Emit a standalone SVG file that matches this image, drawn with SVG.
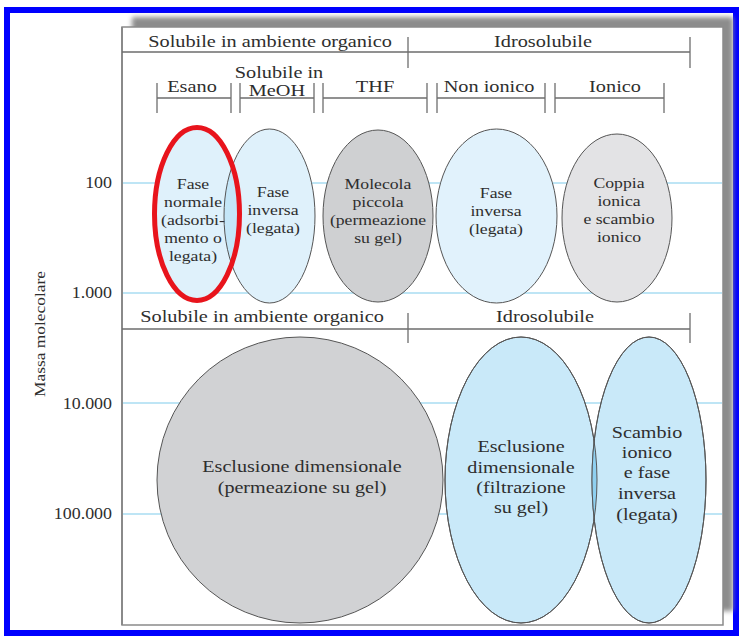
<svg xmlns="http://www.w3.org/2000/svg" width="739" height="636" viewBox="0 0 739 636">
<defs>
<style>
text{font-family:"Liberation Serif","Times New Roman",serif;fill:#2e2e2e;}
.h{font-size:17.5px;text-anchor:middle;}
.e{font-size:15px;text-anchor:middle;}
.b{font-size:16.5px;text-anchor:middle;}
.a{font-size:16px;text-anchor:end;}
.ax{font-size:15px;text-anchor:middle;}
.rule{stroke:#6e6e6e;stroke-width:1.3;fill:none;}
.grid{stroke:#a8dcf2;stroke-width:1.5;}
.ell{stroke:#555;stroke-width:1;}
</style>
<filter id="blur" x="-5%" y="-5%" width="110%" height="110%"><feGaussianBlur stdDeviation="2.5"/></filter>
<clipPath id="clipE1"><ellipse cx="197" cy="214" rx="42.5" ry="86.5"/></clipPath>
<clipPath id="clipB1"><ellipse cx="521" cy="480" rx="76" ry="143"/></clipPath>
</defs>
<rect x="0" y="0" width="739" height="636" fill="#fff"/>
<rect x="7" y="10" width="729" height="623" fill="none" stroke="#0000ff" stroke-width="6"/>

<g id="panel">
<rect x="132" y="17" width="601" height="594" fill="#8c8c8c" filter="url(#blur)"/>
<rect x="122" y="27" width="601" height="598" fill="#fff" stroke="#8a8a8a" stroke-width="1.5"/>
<line x1="122" y1="27" x2="122" y2="625" stroke="#8a8a8a" stroke-width="2"/>
</g>

<g id="grid">
<line class="grid" x1="123" y1="183" x2="722" y2="183"/>
<line class="grid" x1="123" y1="293" x2="722" y2="293"/>
<line class="grid" x1="123" y1="403" x2="722" y2="403"/>
<line class="grid" x1="123" y1="514" x2="722" y2="514"/>
</g>

<g id="axis-labels">
<text class="a" transform="translate(112,188) scale(1.12,1)">100</text>
<text class="a" transform="translate(112,298) scale(1.12,1)">1.000</text>
<text class="a" transform="translate(112,409) scale(1.12,1)">10.000</text>
<text class="a" transform="translate(112,519) scale(1.12,1)">100.000</text>
<text class="ax" transform="translate(45,334) rotate(-90) scale(1.16,1)">Massa molecolare</text>
</g>

<g id="brackets">
<path class="rule" d="M122 52H690M408 37V68M690 37V68"/>
<path class="rule" d="M157 98H231M157 83V113M231 83V113"/>
<path class="rule" d="M240 98H314M240 83V113M314 83V113"/>
<path class="rule" d="M323 98H427M323 83V113M427 83V113"/>
<path class="rule" d="M437 98H545M437 83V113M545 83V113"/>
<path class="rule" d="M555 98H664M555 83V113M664 83V113"/>
<path class="rule" d="M122 329H690M408 313V343M690 313V343"/>
</g>

<g id="header-labels">
<text class="h" transform="translate(270,47) scale(1.16,1)">Solubile in ambiente organico</text>
<text class="h" transform="translate(543,47) scale(1.16,1)">Idrosolubile</text>
<text class="h" transform="translate(192,92) scale(1.16,1)">Esano</text>
<text class="h" transform="translate(279,78) scale(1.16,1)">Solubile in</text>
<text class="h" transform="translate(277,96) scale(1.16,1)">MeOH</text>
<text class="h" transform="translate(375,92) scale(1.16,1)">THF</text>
<text class="h" transform="translate(489,92) scale(1.16,1)">Non ionico</text>
<text class="h" transform="translate(615,92) scale(1.16,1)">Ionico</text>
<text class="h" transform="translate(262,322) scale(1.16,1)">Solubile in ambiente organico</text>
<text class="h" transform="translate(545,322) scale(1.16,1)">Idrosolubile</text>
</g>

<g id="fase-normale">
<ellipse cx="197" cy="214" rx="42.5" ry="86.5" fill="#dff1fb"/>
</g>
<g id="fase-inversa-1">
<ellipse cx="269.5" cy="216" rx="45.5" ry="87" fill="#dff1fb"/>
<ellipse cx="269.5" cy="216" rx="45.5" ry="87" fill="#c4e6f8" clip-path="url(#clipE1)"/>
<ellipse class="ell" cx="269.5" cy="216" rx="45.5" ry="87" fill="none"/>
<text class="e" transform="translate(273,197) scale(1.18,1)">Fase</text>
<text class="e" transform="translate(273,215) scale(1.18,1)">inversa</text>
<text class="e" transform="translate(273,233) scale(1.18,1)">(legata)</text>
</g>
<g id="fase-normale-outline">
<ellipse cx="197" cy="214" rx="42.5" ry="86.5" fill="none" stroke="#e8141c" stroke-width="5"/>
<text class="e" transform="translate(193,189) scale(1.18,1)">Fase</text>
<text class="e" transform="translate(193,207) scale(1.18,1)">normale</text>
<text class="e" transform="translate(193,225) scale(1.18,1)">(adsorbi-</text>
<text class="e" transform="translate(193,243) scale(1.18,1)">mento o</text>
<text class="e" transform="translate(193,261) scale(1.18,1)">legata)</text>
</g>

<g id="molecola-piccola">
<ellipse class="ell" cx="378" cy="216" rx="55" ry="86" fill="#cfd0d2"/>
<text class="e" transform="translate(378,189) scale(1.18,1)">Molecola</text>
<text class="e" transform="translate(378,207) scale(1.18,1)">piccola</text>
<text class="e" transform="translate(378,225) scale(1.18,1)">(permeazione</text>
<text class="e" transform="translate(378,243) scale(1.18,1)">su gel)</text>
</g>

<g id="fase-inversa-2">
<ellipse class="ell" cx="496.5" cy="216" rx="60.5" ry="87" fill="#e1f2fc"/>
<text class="e" transform="translate(496,198) scale(1.18,1)">Fase</text>
<text class="e" transform="translate(496,216) scale(1.18,1)">inversa</text>
<text class="e" transform="translate(496,234) scale(1.18,1)">(legata)</text>
</g>

<g id="coppia-ionica">
<ellipse class="ell" cx="617" cy="218" rx="55" ry="84" fill="#e3e3e5"/>
<text class="e" transform="translate(619,188) scale(1.18,1)">Coppia</text>
<text class="e" transform="translate(619,206) scale(1.18,1)">ionica</text>
<text class="e" transform="translate(619,224) scale(1.18,1)">e scambio</text>
<text class="e" transform="translate(619,242) scale(1.18,1)">ionico</text>
</g>

<g id="esclusione-gel">
<circle class="ell" cx="300" cy="480" r="143" fill="#d1d2d4"/>
<text class="b" transform="translate(302,472) scale(1.22,1)">Esclusione dimensionale</text>
<text class="b" transform="translate(302,493) scale(1.22,1)">(permeazione su gel)</text>
</g>

<g id="esclusione-filtrazione">
<ellipse class="ell" cx="521" cy="480" rx="76" ry="143" fill="#c9e9f9"/>
<text class="b" transform="translate(521,452) scale(1.22,1)">Esclusione</text>
<text class="b" transform="translate(521,473) scale(1.22,1)">dimensionale</text>
<text class="b" transform="translate(521,493) scale(1.22,1)">(filtrazione</text>
<text class="b" transform="translate(521,513) scale(1.22,1)">su gel)</text>
</g>

<g id="scambio-ionico">
<ellipse class="ell" cx="649" cy="480" rx="57" ry="143" fill="#c9e9f9"/>
<ellipse cx="649" cy="480" rx="57" ry="143" fill="#8fd0f0" clip-path="url(#clipB1)"/>
<ellipse class="ell" cx="521" cy="480" rx="76" ry="143" fill="none"/>
<ellipse class="ell" cx="649" cy="480" rx="57" ry="143" fill="none"/>
<text class="b" transform="translate(647,438) scale(1.22,1)">Scambio</text>
<text class="b" transform="translate(647,458) scale(1.22,1)">ionico</text>
<text class="b" transform="translate(647,478) scale(1.22,1)">e fase</text>
<text class="b" transform="translate(647,499) scale(1.22,1)">inversa</text>
<text class="b" transform="translate(647,520) scale(1.22,1)">(legata)</text>
</g>

<g id="connectors"></g>
</svg>
